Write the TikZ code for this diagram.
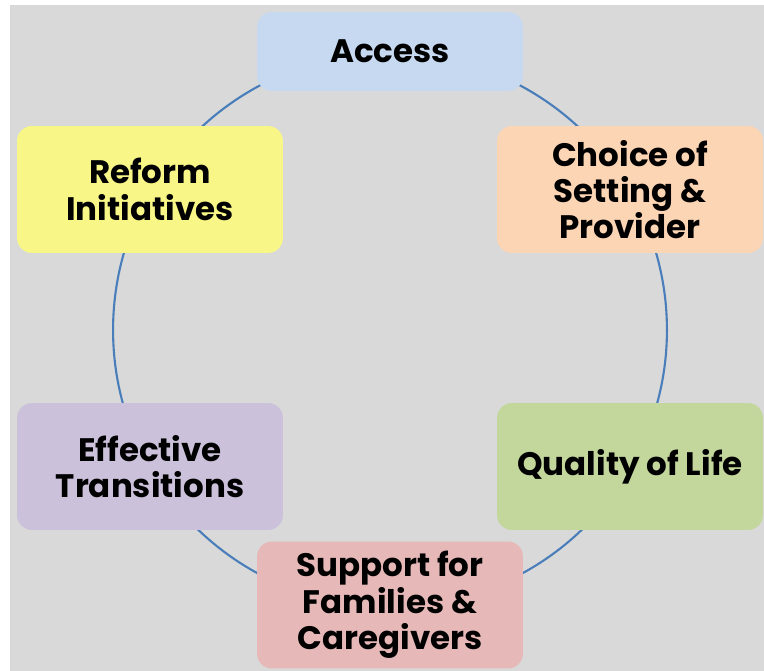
\documentclass[tikz,border=0pt]{standalone}
\usepackage{fontspec}
\setmainfont{Poppins}

\definecolor{panelgray}{HTML}{D9D9D9}
\definecolor{ringblue}{HTML}{4A7EBB}
\definecolor{accessblue}{HTML}{C6D9F1}
\definecolor{choiceorange}{HTML}{FCD5B5}
\definecolor{qualitygreen}{HTML}{C3D69B}
\definecolor{supportpink}{HTML}{E6B9B8}
\definecolor{transitionlilac}{HTML}{CCC1DA}
\definecolor{reformyellow}{HTML}{F8F686}

\tikzset{
    topic/.style={rounded corners=0.3cm, minimum width=5.32cm, minimum height=2.54cm,
        inner sep=0pt, align=center, font=\fontsize{18.5}{20.7}\selectfont\bfseries},
    flat/.style={topic, minimum height=1.58cm}
}

\begin{document}
\begin{tikzpicture}[x=0.02cm, y=-0.02cm]

    \useasboundingbox (0,0) rectangle (764,671);

    % Grey panel
    \fill[panelgray] (10,5) rectangle (764,671);

    % Ring behind the boxes
    \draw[ringblue, line width=1.2pt] (390,330) circle (5.54cm);

    % Topic boxes, clockwise from the top
    \node[flat, fill=accessblue] (access) at (390,51.5) {Access};
    \node[topic, fill=choiceorange] (choice) at (630,189.5) {Choice of\\Setting \&\\Provider};
    \node[topic, fill=qualitygreen] (quality) at (630,466.5) {Quality of Life};
    \node[topic, fill=supportpink] (support) at (390,605) {Support for\\Families \&\\Caregivers};
    \node[topic, fill=transitionlilac] (transitions) at (150,466.5) {Effective\\Transitions};
    \node[topic, fill=reformyellow] (reform) at (150,189.5) {Reform\\Initiatives};

\end{tikzpicture}
\end{document}
